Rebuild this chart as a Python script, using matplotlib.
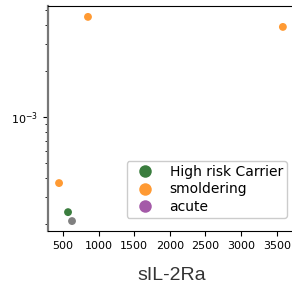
import matplotlib
matplotlib.use("Agg")
import matplotlib.pyplot as plt
from matplotlib.lines import Line2D

# data
groups = ["High risk Carrier", "smoldering", "acute"]
colors = {"High risk Carrier": "#3a7d3e", "smoldering": "#ff9a33", "acute": "#a45aa8", "other": "#808080"}
pt_group = ["smoldering", "smoldering", "smoldering", "High risk Carrier", "other"]
pt_x = [851, 3586, 445, 571, 627]
pt_y = [4.5e-3, 3.87e-3, 3.7e-4, 2.39e-4, 2.09e-4]

fig = plt.figure(figsize=(2.92, 2.85), dpi=100)
ax = fig.add_axes([48/292, 54/285, 1.01 - 48/292, (231-6)/285])

for g, x, y in zip(pt_group, pt_x, pt_y):
    ax.scatter(x, y, s=32, color=colors[g], edgecolor="none", zorder=3)

ax.set_yscale("log")
ax.set_xlim(290, 3755)
ax.set_ylim(1.8e-4, 5.3e-3)
ax.set_xticks([500, 1000, 1500, 2000, 2500, 3000, 3500])
ax.tick_params(labelsize=8, length=3.5)
ax.tick_params(which="minor", length=2.5)
ax.spines["right"].set_visible(False)
ax.spines["left"].set_color("#777777")
ax.spines["left"].set_linewidth(1.6)

ax.set_xlabel("sIL-2Ra", fontsize=14, family="Liberation Sans", color="#333333", labelpad=12)

handles = [Line2D([], [], marker="o", linestyle="none", markersize=9,
                  markerfacecolor=colors[g], markeredgecolor="none") for g in groups]
fig.legend(handles, groups, loc="lower right", bbox_to_anchor=(287/292, (285-218)/285),
           bbox_transform=fig.transFigure, fontsize=10, borderaxespad=0,
           handletextpad=0.8, labelspacing=0.25, borderpad=0.3, framealpha=1, edgecolor="#cccccc")

fig.savefig("out.png", dpi=100)
